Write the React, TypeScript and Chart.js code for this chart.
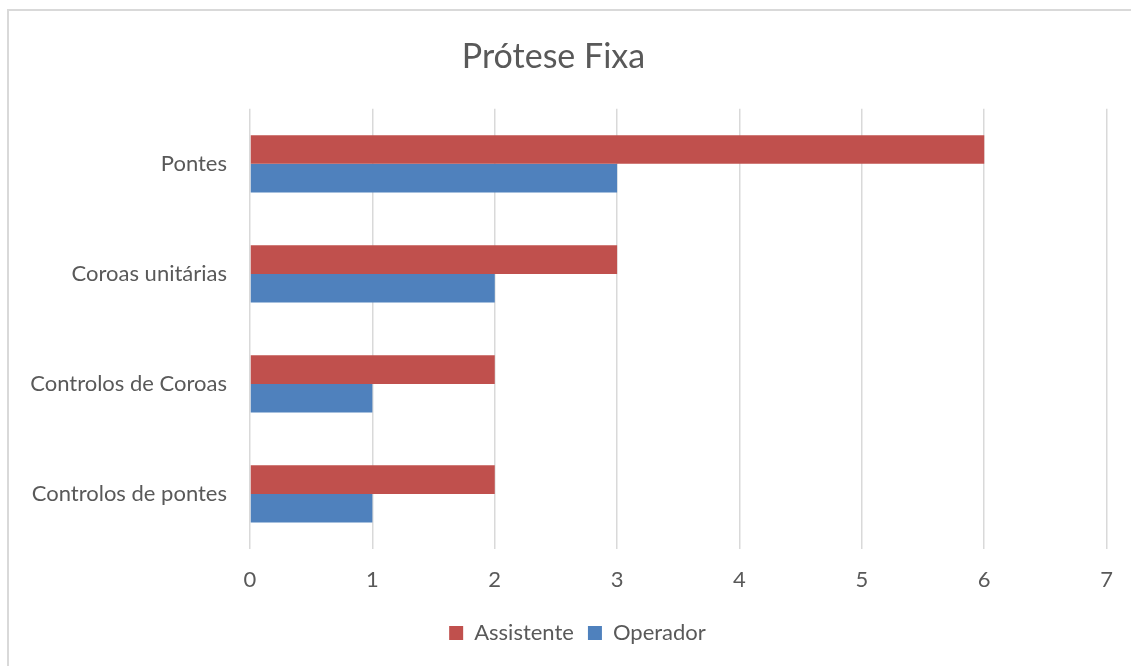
import React, { useEffect, useRef } from "react";
import { Chart, registerables } from "chart.js";

Chart.register(...registerables);

const categories = ["Pontes", "Coroas unitárias", "Controlos de Coroas", "Controlos de pontes"];
const assistente = [6, 3, 2, 2];
const operador = [3, 2, 1, 1];
const xTicks = [0, 1, 2, 3, 4, 5, 6, 7];
const titleText = "Prótese Fixa";

const FONT = "Lato, 'Open Sans', sans-serif";
const GREY = "#595959";

const shiftLegend = {
  id: "shiftLegend",
  afterLayout(chart: any) {
    if (chart.legend) {
      chart.legend.left += 24;
      chart.legend.right += 24;
    }
  },
};

export default function App() {
  const ref = useRef<HTMLCanvasElement | null>(null);

  useEffect(() => {
    document.body.style.margin = "0";
    document.body.style.overflow = "hidden";
    const ctx = ref.current!;
    const chart = new Chart(ctx, {
      type: "bar",
      data: {
        labels: categories,
        datasets: [
          { label: "Assistente", data: assistente, backgroundColor: "#C0504D", borderWidth: 0 },
          { label: "Operador", data: operador, backgroundColor: "#4F81BD", borderWidth: 0 },
        ],
      },
      plugins: [shiftLegend],
      options: {
        indexAxis: "y",
        animation: false,
        responsive: false,
        maintainAspectRatio: false,
        datasets: { bar: { categoryPercentage: 0.52, barPercentage: 1 } },
        layout: { padding: { left: 0, right: 24, top: 0, bottom: 12 } },
        scales: {
          x: {
            min: 0,
            max: 7,
            afterBuildTicks: (s: any) => {
              s.ticks = xTicks.map((v) => ({ value: v }));
            },
            grid: { color: "#D9D9D9", lineWidth: 1.5, drawTicks: false },
            border: { display: false },
            ticks: { color: GREY, font: { family: FONT, size: 22 }, padding: 18 },
            afterFit: (s: any) => {
              s.height = 59;
            },
          },
          y: {
            grid: { display: false, drawTicks: false },
            border: { display: false },
            ticks: { color: GREY, font: { family: FONT, size: 22 }, padding: 23 },
            afterFit: (s: any) => {
              s.width = 250;
            },
          },
        },
        plugins: {
          title: {
            display: true,
            text: titleText,
            color: GREY,
            font: { family: FONT, size: 34, weight: "normal" },
            padding: { top: 37, bottom: 31 },
          },
          legend: {
            position: "bottom",
            labels: {
              color: GREY,
              font: { family: FONT, size: 22 },
              boxWidth: 14,
              boxHeight: 14,
              padding: 14,
            },
          },
          tooltip: { enabled: false },
        },
      },
    });
    return () => chart.destroy();
  }, []);

  return (
    <div style={{ position: "relative", width: 1131, height: 666, overflow: "hidden", background: "#fff" }}>
      <div
        style={{
          position: "absolute",
          left: 7,
          top: 9,
          width: 1140,
          height: 670,
          border: "2px solid #D9D9D9",
          boxSizing: "border-box",
        }}
      />
      <canvas ref={ref} width={1131} height={666} style={{ position: "absolute", left: 0, top: 0 }} />
    </div>
  );
}
